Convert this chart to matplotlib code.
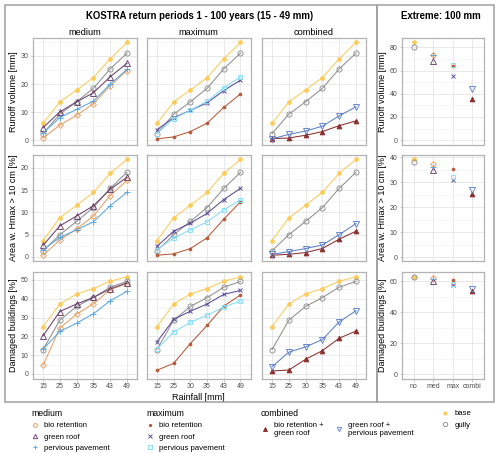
import matplotlib.pyplot as plt
from matplotlib.lines import Line2D
from matplotlib.patches import Rectangle
from matplotlib.ticker import MultipleLocator

plt.rcParams['font.family'] = ['Liberation Sans', 'DejaVu Sans']

rain = ["15", "25", "30", "35", "43", "49"]
scenarios = ["no", "med", "max", "combi"]

# Runoff volume [mm]
runoff_base = [6.0, 13.7, 17.9, 22.3, 29.0, 34.8]
runoff_gully = [2.4, 9.3, 13.7, 18.5, 25.4, 31.0]
runoff_bio_med = [0.8, 5.4, 8.9, 13.0, 19.4, 24.8]
runoff_green_med = [4.5, 10.1, 13.7, 16.9, 22.6, 27.4]
runoff_pp_med = [2.6, 8.1, 11.0, 13.9, 20.0, 25.2]
runoff_bio_max = [0.5, 1.2, 3.1, 6.1, 11.7, 16.5]
runoff_green_max = [3.8, 8.0, 10.7, 13.3, 17.7, 21.4]
runoff_pp_max = [2.4, 7.7, 10.7, 13.9, 18.7, 22.6]
runoff_bio_green = [0.6, 0.8, 1.8, 3.1, 5.2, 6.9]
runoff_green_pp = [0.5, 2.1, 3.3, 5.0, 8.7, 11.9]

# Area w. Hmax > 10 cm [%]
area_base = [3.7, 8.8, 11.6, 14.5, 18.8, 21.9]
area_gully = [1.4, 5.0, 8.0, 11.1, 15.4, 19.0]
area_bio_med = [0.4, 3.8, 6.3, 9.2, 13.8, 17.2]
area_green_med = [2.6, 7.0, 9.2, 11.5, 15.2, 17.9]
area_pp_med = [1.6, 4.4, 6.1, 7.9, 11.5, 14.5]
area_bio_max = [0.4, 0.7, 1.9, 4.3, 8.5, 12.4]
area_green_max = [2.4, 5.8, 7.6, 9.8, 12.9, 15.4]
area_pp_max = [1.6, 4.3, 6.1, 7.9, 10.6, 12.8]
area_bio_green = [0.4, 0.6, 1.0, 1.9, 4.0, 5.8]
area_green_pp = [0.6, 1.2, 1.9, 2.7, 5.0, 7.5]

# Damaged buildings [%]
damage_base = [25.2, 37.2, 42.5, 45.4, 49.3, 51.6]
damage_gully = [13.0, 28.6, 35.9, 40.6, 46.1, 49.2]
damage_bio_med = [4.6, 24.4, 31.8, 37.3, 44.8, 48.0]
damage_green_med = [20.3, 33.2, 37.2, 40.7, 45.2, 48.4]
damage_pp_med = [13.2, 22.6, 27.0, 32.0, 38.9, 43.9]
damage_bio_max = [2.0, 5.7, 16.2, 25.8, 36.1, 42.0]
damage_green_max = [17.1, 29.0, 33.4, 37.2, 42.3, 44.4]
damage_pp_max = [13.3, 22.4, 27.4, 31.3, 35.6, 38.9]
damage_bio_green = [1.6, 2.1, 7.8, 12.4, 19.0, 22.8]
damage_green_pp = [3.9, 11.6, 14.4, 18.3, 27.7, 33.6]

# Extreme 100 mm, order: base, gully, bio_med, green_med, pp_med,
# bio_max, green_max, pp_max, bio_green, green_pp
extreme_scenario = ["no", "no", "med", "med", "med", "max", "max", "max", "combi", "combi"]
extreme_runoff = [84.3, 80.0, 73.1, 68.5, 73.3, 63.5, 55.3, 64.7, 35.7, 44.0]
extreme_area = [39.3, 37.9, 37.3, 34.9, 36.0, 35.2, 31.0, 32.2, 25.3, 26.9]
extreme_damage = [62.8, 62.5, 62.1, 60.4, 61.5, 61.0, 57.6, 58.3, 53.9, 55.0]

keys = ["base", "gully", "bio_med", "green_med", "pp_med",
        "bio_max", "green_max", "pp_max", "bio_green", "green_pp"]

styles = {
    "base": dict(color="#FDCB5A", marker="o", ms=2.7, mfc="#FDCB5A"),
    "gully": dict(color="#8F8F8F", marker="o", ms=3.7, mfc="none"),
    "bio_med": dict(color="#E8A064", marker="D", ms=3.0, mfc="none"),
    "green_med": dict(color="#6B416B", marker="^", ms=3.7, mfc="none"),
    "pp_med": dict(color="#5AA7E0", marker="+", ms=4.0, mfc="none"),
    "bio_max": dict(color="#B8583A", marker="o", ms=2.0, mfc="#B8583A"),
    "green_max": dict(color="#5A4A94", marker="x", ms=3.1, mfc="none"),
    "pp_max": dict(color="#84DDF5", marker="s", ms=3.2, mfc="none"),
    "bio_green": dict(color="#8B2E2E", marker="^", ms=3.4, mfc="#8B2E2E"),
    "green_pp": dict(color="#5E80C8", marker="v", ms=3.7, mfc="none"),
}

rows = [
    ("Runoff volume [mm]", dict(base=runoff_base, gully=runoff_gully, bio_med=runoff_bio_med,
                                green_med=runoff_green_med, pp_med=runoff_pp_med,
                                bio_max=runoff_bio_max, green_max=runoff_green_max,
                                pp_max=runoff_pp_max, bio_green=runoff_bio_green,
                                green_pp=runoff_green_pp),
     extreme_runoff, (-1.5, 36.4), 10, (-3.7, 88), 20),
    ("Area w. Hmax > 10 cm [%]", dict(base=area_base, gully=area_gully, bio_med=area_bio_med,
                                      green_med=area_green_med, pp_med=area_pp_med,
                                      bio_max=area_bio_max, green_max=area_green_max,
                                      pp_max=area_pp_max, bio_green=area_bio_green,
                                      green_pp=area_green_pp),
     extreme_area, (-0.9, 22.9), 5, (-1.6, 40.9), 10),
    ("Damaged buildings [%]", dict(base=damage_base, gully=damage_gully, bio_med=damage_bio_med,
                                   green_med=damage_green_med, pp_med=damage_pp_med,
                                   bio_max=damage_bio_max, green_max=damage_green_max,
                                   pp_max=damage_pp_max, bio_green=damage_bio_green,
                                   green_pp=damage_green_pp),
     extreme_damage, (-2.4, 54.2), 10, (-2.9, 66), 20),
]

columns = [
    ("medium", ["base", "gully", "bio_med", "green_med", "pp_med"]),
    ("maximum", ["base", "gully", "bio_max", "green_max", "pp_max"]),
    ("combined", ["base", "gully", "bio_green", "green_pp"]),
]

W, H = 500, 453
col_x = [(33, 137), (147, 250.5), (262, 366)]
right_x = (402, 484)
row_y = [(38, 144.5), (155, 261), (272, 378.5)]


def box(l, t, r, b):
    return [l / W, 1 - b / H, (r - l) / W, (b - t) / H]


def style_axes(ax, major, show_x, show_y):
    ax.set_facecolor("white")
    ax.yaxis.set_major_locator(MultipleLocator(major))
    ax.yaxis.set_minor_locator(MultipleLocator(major / 2))
    ax.grid(True, which="major", color="#E3E3E3", lw=0.55)
    ax.grid(True, which="minor", axis="y", color="#F0F0F0", lw=0.4)
    ax.set_axisbelow(True)
    for s in ax.spines.values():
        s.set_color("#B3B3B3")
        s.set_linewidth(0.9)
    ax.tick_params(which="both", length=1.8, width=0.5, color="#B3B3B3",
                   labelsize=5, labelcolor="#4D4D4D", pad=1.5)
    ax.tick_params(which="minor", length=0)
    if not show_x:
        ax.tick_params(axis="x", labelbottom=False, length=0)
    if not show_y:
        ax.tick_params(axis="y", labelleft=False, length=0)


fig = plt.figure(figsize=(W / 100, H / 100), dpi=100)

for r, (ylab, data, ext, ylim, major, rlim, rmajor) in enumerate(rows):
    t, b = row_y[r]
    for c, (cname, members) in enumerate(columns):
        l, rr = col_x[c]
        ax = fig.add_axes(box(l, t, rr, b))
        for k in members:
            st = styles[k]
            ax.plot(rain, data[k], color=st["color"], lw=0.75, marker=st["marker"],
                    ms=st["ms"], mfc=st["mfc"], mec=st["color"], mew=0.65)
        ax.set_xlim(-0.6, 5.6)
        ax.set_ylim(*ylim)
        style_axes(ax, major, show_x=(r == 2), show_y=(c == 0))
        if c == 0:
            ax.set_ylabel(ylab, fontsize=6.5, labelpad=2)
        if r == 0:
            ax.set_title(cname, fontsize=6.7, pad=2.5)
        if r == 2 and c == 1:
            ax.set_xlabel("Rainfall [mm]", fontsize=6.5, labelpad=2)
    # extreme panel
    ax = fig.add_axes(box(right_x[0], t, right_x[1], b))
    ax.plot(scenarios, [0] * 4, lw=0, alpha=0)
    for k, s, v in zip(keys, extreme_scenario, ext):
        st = styles[k]
        ax.plot([s], [v], lw=0, marker=st["marker"], ms=st["ms"], mfc=st["mfc"],
                mec=st["color"], mew=0.65)
    ax.set_xlim(-0.6, 3.6)
    ax.set_ylim(*rlim)
    style_axes(ax, rmajor, show_x=(r == 2), show_y=True)
    ax.set_ylabel(ylab, fontsize=6.5, labelpad=2)

fig.text(200 / W, 1 - 16 / H, "KOSTRA return periods 1 - 100 years (15 - 49 mm)",
         ha="center", va="center", fontsize=6.9, fontweight="bold")
fig.text(441 / W, 1 - 16 / H, "Extreme: 100 mm", ha="center", va="center",
         fontsize=6.9, fontweight="bold")

# outer frames
for (l, rr) in [(5, 376.5), (376.5, 494)]:
    fig.patches.append(Rectangle((l / W, 1 - 402 / H), (rr - l) / W, 397 / H,
                                 transform=fig.transFigure, fill=False,
                                 edgecolor="#A0A0A0", lw=1.1))


def handle(k):
    st = styles[k]
    return Line2D([], [], lw=0, marker=st["marker"], ms=st["ms"] * 0.85,
                  mfc=st["mfc"], mec=st["color"], mew=0.65)


legend_kw = dict(frameon=False, fontsize=5.6, title_fontsize=6.3, handlelength=1.0,
                 handletextpad=0.7, labelspacing=0.5, borderpad=0, borderaxespad=0,
                 loc="upper left")

groups = [
    ("medium", ["bio_med", "green_med", "pp_med"],
     ["bio retention", "green roof", "pervious pavement"], 31, 1),
    ("maximum", ["bio_max", "green_max", "pp_max"],
     ["bio retention", "green roof", "pervious pavement"], 146, 1),
    ("combined", ["bio_green", "green_pp"],
     ["bio retention +\ngreen roof", "green roof +\npervious pavement"], 261, 2),
    (None, ["base", "gully"], ["base", "gully"], 441, 1),
]
for title, ks, labels, x0, ncol in groups:
    y0 = 409 if title else 410
    leg = fig.legend([handle(k) for k in ks], labels, title=title, ncol=ncol,
                     bbox_to_anchor=(x0 / W, 1 - y0 / H), columnspacing=1.4,
                     **legend_kw)
    leg._legend_box.align = "left"

fig.savefig("out.png", dpi=100)
